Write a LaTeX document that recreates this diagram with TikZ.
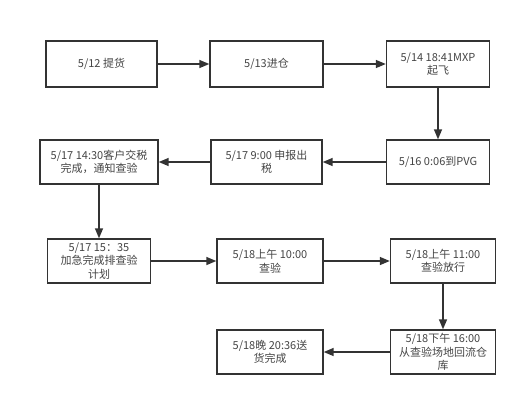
\documentclass[tikz,border=0pt]{standalone}
\usepackage{fontspec}
\setmainfont{Noto Sans CJK SC}
\usetikzlibrary{arrows.meta}
\definecolor{linec}{HTML}{333333}
\definecolor{textc}{HTML}{454545}
\tikzset{
  box/.style={draw=linec, line width=1.4pt, fill=white, align=center, text=textc,
    font=\fontsize{11}{13.5}\selectfont, inner sep=0pt},
  flow/.style={draw=linec, line width=1.5pt, -{Triangle[length=10pt,width=8pt]}}
}
\begin{document}
\begin{tikzpicture}[x=1pt,y=-1pt]
\useasboundingbox (0,0) rectangle (525,400);
\node[box, minimum width=111pt, minimum height=46pt] (b1) at (101.5,64) {5/12 提货};
\node[box, minimum width=113pt, minimum height=46pt] (b2) at (266.5,64) {5/13进仓};
\node[box, minimum width=103pt, minimum height=46pt] (b3) at (438,64) {5/14 18:41MXP\\起飞};
\node[box, minimum width=103pt, minimum height=44pt] (b4) at (438,162) {5/16 0:06到PVG};
\node[box, minimum width=111pt, minimum height=44pt] (b5) at (266.5,162) {5/17 9:00 申报出\\税};
\node[box, minimum width=118pt, minimum height=44pt] (b6) at (99,162) {5/17 14:30客户交税\\完成，通知查验};
\node[box, minimum width=103pt, minimum height=44pt] (b7) at (99,261) {5/17 15：35\\加急完成排查验\\计划};
\node[box, minimum width=106pt, minimum height=44pt] (b8) at (270,261) {5/18上午 10:00\\查验};
\node[box, minimum width=105pt, minimum height=44pt] (b9) at (443,261) {5/18上午 11:00\\查验放行};
\node[box, minimum width=105pt, minimum height=44pt] (b11) at (443,352) {5/18下午 16:00\\从查验场地回流仓\\库};
\node[box, minimum width=106pt, minimum height=44pt] (b10) at (270,352) {5/18晚 20:36送\\货完成};
\draw[flow] (b1) -- (b2);
\draw[flow] (b2) -- (b3);
\draw[flow] (b3) -- (b4);
\draw[flow] (b4) -- (b5);
\draw[flow] (b5) -- (b6);
\draw[flow] (b6) -- (b7);
\draw[flow] (b7) -- (b8);
\draw[flow] (b8) -- (b9);
\draw[flow] (b9) -- (b11);
\draw[flow] (b11) -- (b10);
\end{tikzpicture}
\end{document}
